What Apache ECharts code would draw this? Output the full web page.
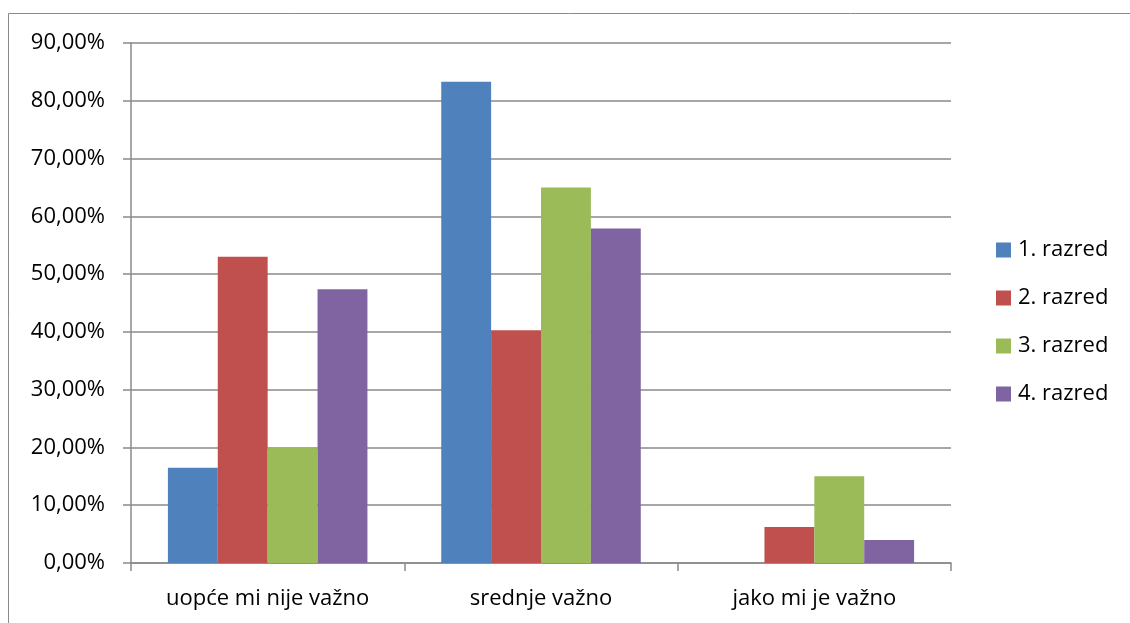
<!DOCTYPE html>
<html>
<head>
<meta charset="utf-8">
<script src="https://cdn.jsdelivr.net/npm/echarts@6/dist/echarts.min.js"></script>
<style>
  html, body { margin: 0; padding: 0; background: #fff; }
  #chart { width: 1130px; height: 623px; }
</style>
</head>
<body>
<div id="chart"></div>
<script>
const categories = ['uopće mi nije važno', 'srednje važno', 'jako mi je važno']
const razred1 = [16.5, 83.3, 0]
const razred2 = [53.0, 40.3, 6.25]
const razred3 = [20.0, 65.0, 15.0]
const razred4 = [47.4, 57.9, 4.0]
const seriesNames = ['1. razred', '2. razred', '3. razred', '4. razred']
const colors = ['#4f81bd', '#c0504d', '#9bbb59', '#8064a2']

const font = 'Open Sans'
const gridColor = '#8a8a8a'
const c = echarts.init(document.getElementById('chart'))

const makeBar = (name, data) => ({
  name: name,
  type: 'bar',
  data: data,
  barGap: '0%',
  barCategoryGap: '27%'
})

c.setOption({
  animation: false,
  color: colors,
  textStyle: { fontFamily: font },
  graphic: [{
    type: 'rect',
    shape: { x: 8.5, y: 13.5, width: 1200, height: 700 },
    style: { fill: 'none', stroke: gridColor, lineWidth: 1 }
  }],
  grid: { left: 131, top: 43, right: 179, bottom: 60 },
  legend: {
    orient: 'vertical',
    left: 996,
    top: 239,
    padding: 0,
    itemWidth: 15,
    itemHeight: 15,
    itemGap: 26,
    icon: 'rect',
    textStyle: { fontSize: 22, lineHeight: 22, color: '#000', fontFamily: font, padding: [0, 0, 0, 2] },
    data: seriesNames
  },
  xAxis: {
    type: 'category',
    data: categories,
    axisLine: { lineStyle: { color: gridColor, width: 1.5 } },
    axisTick: { show: true, length: 8, lineStyle: { color: gridColor, width: 1.5 } },
    axisLabel: { color: '#000', fontSize: 22, margin: 25, fontFamily: font }
  },
  yAxis: {
    type: 'value',
    min: 0,
    max: 90,
    interval: 10,
    axisLine: { show: true, lineStyle: { color: gridColor, width: 1.5 } },
    axisTick: { show: true, length: 8, lineStyle: { color: gridColor, width: 1.5 } },
    splitLine: { lineStyle: { color: gridColor, width: 1.5 } },
    axisLabel: {
      color: '#000',
      fontSize: 22,
      margin: 26,
      fontFamily: font,
      formatter: v => v.toFixed(2).replace('.', ',') + '%'
    }
  },
  series: [
    makeBar(seriesNames[0], razred1),
    makeBar(seriesNames[1], razred2),
    makeBar(seriesNames[2], razred3),
    makeBar(seriesNames[3], razred4)
  ]
})
</script>
</body>
</html>
